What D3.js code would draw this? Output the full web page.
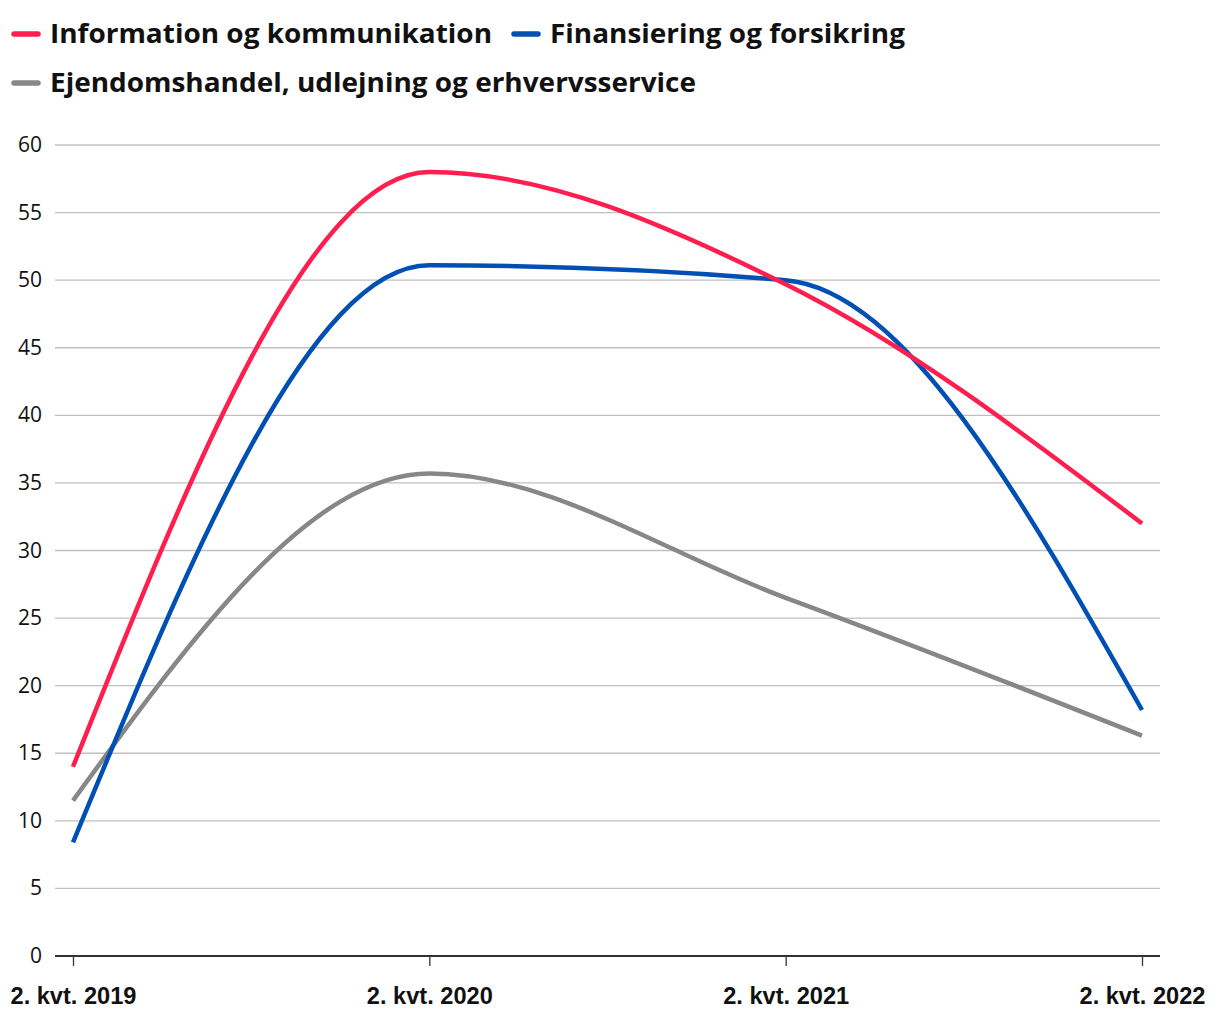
<!DOCTYPE html>
<html>
<head>
<meta charset="utf-8">
<script src="https://cdn.jsdelivr.net/npm/d3@7"></script>
<style>
  body { margin: 0; background: #fff; }
</style>
</head>
<body>
<div id="chart"></div>
<script>
var categories = ["2. kvt. 2019", "2. kvt. 2020", "2. kvt. 2021", "2. kvt. 2022"];
var seriesNames = ["Information og kommunikation", "Finansiering og forsikring", "Ejendomshandel, udlejning og erhvervsservice"];
var infoValues = [14, 58, 49.7, 32];
var finValues = [8.4, 51.1, 50.0, 18.2];
var ejdValues = [11.5, 35.7, 26.5, 16.3];
var colors = ["#ff1f4f", "#0050b4", "#878787"];
var yTicks = [0, 5, 10, 15, 20, 25, 30, 35, 40, 45, 50, 55, 60];

var series = [infoValues, finValues, ejdValues].map(function(v, i) {
    return { name: seriesNames[i], values: v, color: colors[i] };
});

var width = 1220, height = 1020;

var svg = d3.select("#chart").append("svg")
    .attr("width", width)
    .attr("height", height);

var x = d3.scalePoint()
    .domain(categories)
    .range([73, 1142]);

var y = d3.scaleLinear()
    .domain([0, 60])
    .range([956, 145]);

// grid
svg.append("g")
    .selectAll("line")
    .data(yTicks.filter(function(d) { return d > 0; }))
    .enter()
    .append("line")
    .attr("x1", 55)
    .attr("x2", 1160)
    .attr("y1", function(d) { return y(d); })
    .attr("y2", function(d) { return y(d); })
    .attr("stroke", "#c0c0c0")
    .attr("stroke-width", 1.3);

// y labels
svg.append("g")
    .selectAll("text")
    .data(yTicks)
    .enter()
    .append("text")
    .attr("x", 42)
    .attr("y", function(d) { return y(d) + 7; })
    .attr("text-anchor", "end")
    .style("font-family", "'Open Sans', sans-serif")
    .style("font-size", "21px")
    .style("fill", "#111")
    .text(function(d) { return d; });

// x axis
var xAxis = svg.append("g")
    .attr("transform", "translate(0," + y(0) + ")")
    .call(d3.axisBottom(x).tickSize(10).tickPadding(22));
xAxis.select(".domain").remove();
xAxis.selectAll(".tick line").attr("stroke", "#333").attr("stroke-width", 1.3);
xAxis.selectAll(".tick text")
    .style("font-family", "'Liberation Sans', Arial, sans-serif")
    .style("font-weight", "bold")
    .style("font-size", "23px")
    .style("fill", "#111")
    .attr("textLength", 126)
    .attr("lengthAdjust", "spacingAndGlyphs");
svg.append("line")
    .attr("x1", 55).attr("x2", 1160)
    .attr("y1", y(0)).attr("y2", y(0))
    .attr("stroke", "#333")
    .attr("stroke-width", 2.2);

// lines
var line = d3.line()
    .x(function(d, i) { return x(categories[i]); })
    .y(function(d) { return y(d); })
    .curve(d3.curveMonotoneX);

svg.append("g")
    .selectAll("path")
    .data(series.slice().reverse())
    .enter()
    .append("path")
    .attr("d", function(d) { return line(d.values); })
    .attr("fill", "none")
    .attr("stroke", function(d) { return d.color; })
    .attr("stroke-width", 4.5)
    .attr("stroke-linejoin", "round");

// legend
var legendPos = [[12, 34], [512, 34], [12, 83]];
var legendWidths = [442, 355, 646];
var legend = svg.append("g")
    .selectAll("g")
    .data(series)
    .enter()
    .append("g")
    .attr("transform", function(d, i) { return "translate(" + legendPos[i][0] + "," + legendPos[i][1] + ")"; });

legend.append("line")
    .attr("x1", 2).attr("x2", 26)
    .attr("y1", 0).attr("y2", 0)
    .attr("stroke", function(d) { return d.color; })
    .attr("stroke-width", 5.5)
    .attr("stroke-linecap", "round");

legend.append("text")
    .attr("x", 38)
    .attr("y", 9)
    .style("font-family", "'Open Sans', sans-serif")
    .style("font-weight", "bold")
    .style("font-size", "27px")
    .style("fill", "#111")
    .attr("textLength", function(d, i) { return legendWidths[i]; })
    .attr("lengthAdjust", "spacingAndGlyphs")
    .text(function(d) { return d.name; });
</script>
</body>
</html>
